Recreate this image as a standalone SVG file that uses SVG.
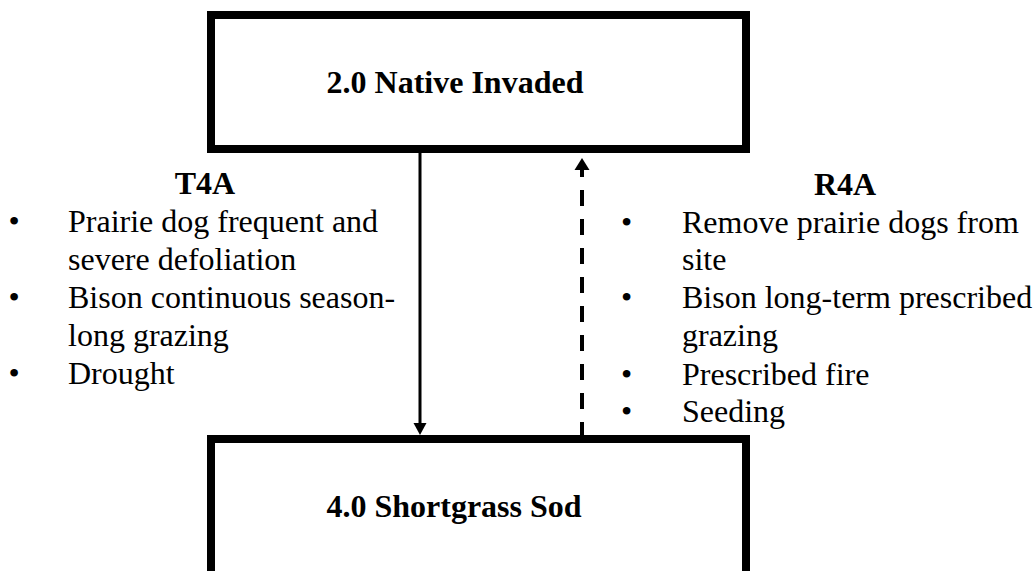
<svg xmlns="http://www.w3.org/2000/svg" width="1034" height="571" viewBox="0 0 1034 571">
<style>
.box{fill:#fff;stroke:#000;stroke-width:8}
.title{font-family:"Liberation Serif","Times New Roman",serif;font-size:32px;font-weight:bold;fill:#000}
.body{font-family:"Liberation Serif","Times New Roman",serif;font-size:32px;fill:#000}
.solid{stroke:#000;stroke-width:3;fill:none}
.dash{stroke:#000;stroke-width:4;fill:none;stroke-dasharray:16 13;stroke-dashoffset:9}
.head{fill:#000}
</style>
<rect width="1034" height="571" fill="#fff"/>
<g id="node-native-invaded">
<rect class="box" x="211" y="15" width="535" height="134"/>
<text class="title" x="455" y="93" text-anchor="middle">2.0 Native Invaded</text>
</g>
<g id="node-shortgrass-sod">
<rect class="box" x="211" y="439" width="535" height="200"/>
<text class="title" x="454" y="517" text-anchor="middle">4.0 Shortgrass Sod</text>
</g>
<g id="connectors">
<line class="solid" x1="420" y1="153" x2="420" y2="425"/>
<polygon class="head" points="413.5,423 426.5,423 420,435"/>
<line class="dash" x1="582" y1="170" x2="582" y2="437"/>
<polygon class="head" points="574.5,170 589.5,170 582,158"/>
</g>
<g id="label-t4a">
<text class="title" x="205" y="194" text-anchor="middle">T4A</text>
<text class="body" x="8.5" y="232">•</text>
<text class="body" x="68" y="232">Prairie dog frequent and</text>
<text class="body" x="68" y="270">severe defoliation</text>
<text class="body" x="8.5" y="308">•</text>
<text class="body" x="68" y="308">Bison continuous season-</text>
<text class="body" x="68" y="346">long grazing</text>
<text class="body" x="8.5" y="384">•</text>
<text class="body" x="68" y="384">Drought</text>
</g>
<g id="label-r4a">
<text class="title" x="845" y="195" text-anchor="middle">R4A</text>
<text class="body" x="621" y="233">•</text>
<text class="body" x="682" y="233">Remove prairie dogs from</text>
<text class="body" x="682" y="270">site</text>
<text class="body" x="621" y="308">•</text>
<text class="body" x="682" y="308">Bison long-term prescribed</text>
<text class="body" x="682" y="346">grazing</text>
<text class="body" x="621" y="385">•</text>
<text class="body" x="682" y="385">Prescribed fire</text>
<text class="body" x="621" y="422">•</text>
<text class="body" x="682" y="422">Seeding</text>
</g>
</svg>
